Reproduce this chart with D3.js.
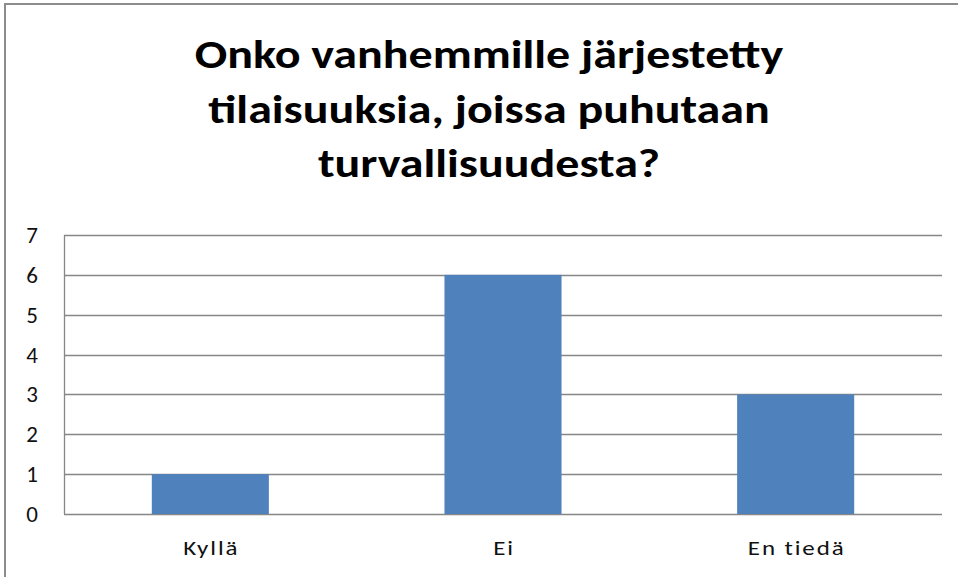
<!DOCTYPE html>
<html>
<head>
<meta charset="utf-8">
<script src="https://cdn.jsdelivr.net/npm/d3@7"></script>
<style>
  body { margin: 0; background: #fff; }
  svg { display: block; }
</style>
</head>
<body>
<svg id="chart" width="958" height="577"></svg>
<script>
const titleLines = ['Onko vanhemmille järjestetty', 'tilaisuuksia, joissa puhutaan', 'turvallisuudesta?'];
const categories = ['Kyllä', 'Ei', 'En tiedä'];
const values = [1, 6, 3];
const yTicks = [0, 1, 2, 3, 4, 5, 6, 7];

const svg = d3.select('#chart');
const W = 958, H = 577;
const margin = { top: 235, right: 16, bottom: 63, left: 64 };

// outer chart border
svg.append('rect')
  .attr('x', 5).attr('y', 4)
  .attr('width', W + 10).attr('height', H + 10)
  .attr('fill', 'none')
  .attr('stroke', '#8c8c8c')
  .attr('stroke-width', 2);

const x = d3.scaleBand()
  .domain(categories)
  .range([margin.left, W - margin.right])
  .padding(0);

const y = d3.scaleLinear()
  .domain([0, 7])
  .range([H - margin.bottom, margin.top]);

const font = 'Calibri, Carlito, "Open Sans", sans-serif';

// gridlines
svg.append('g')
  .selectAll('line')
  .data(yTicks)
  .join('line')
  .attr('x1', margin.left)
  .attr('x2', W - margin.right)
  .attr('y1', d => Math.round(y(d)) + 0.5)
  .attr('y2', d => Math.round(y(d)) + 0.5)
  .attr('stroke', '#868686')
  .attr('stroke-width', 1.3);

// y axis line
svg.append('line')
  .attr('x1', margin.left + 0.5).attr('x2', margin.left + 0.5)
  .attr('y1', y(7)).attr('y2', y(0))
  .attr('stroke', '#868686')
  .attr('stroke-width', 1.3);

// y tick labels
svg.append('g')
  .selectAll('text')
  .data(yTicks)
  .join('text')
  .attr('x', 38)
  .attr('y', d => y(d))
  .attr('dy', '0.35em')
  .attr('text-anchor', 'end')
  .attr('font-family', font)
  .attr('font-size', 23)
  .attr('fill', '#111')
  .text(d => d);

// bars
const barW = x.bandwidth() * 0.4;
svg.append('g')
  .selectAll('rect')
  .data(values)
  .join('rect')
  .attr('x', (d, i) => x(categories[i]) + (x.bandwidth() - barW) / 2)
  .attr('y', d => y(d))
  .attr('width', barW)
  .attr('height', d => y(0) - y(d))
  .attr('fill', '#4f81bd');

// x category labels (a bit wider than normal, like the reference)
svg.append('g')
  .selectAll('text')
  .data(categories)
  .join('text')
  .attr('transform', d => 'translate(' + (x(d) + x.bandwidth() / 2 + 1) + ',555) scale(1.25,1)')
  .attr('text-anchor', 'middle')
  .attr('font-family', font)
  .attr('font-size', 20)
  .attr('letter-spacing', 1.5)
  .attr('fill', '#111')
  .text(d => d);

// title
svg.append('g')
  .selectAll('text')
  .data(titleLines)
  .join('text')
  .attr('transform', (d, i) => 'translate(489,' + (68 + i * 54.5) + ') scale(1.2,1)')
  .attr('text-anchor', 'middle')
  .attr('font-family', font)
  .attr('font-weight', 'bold')
  .attr('font-size', 40)
  .attr('fill', '#000')
  .text(d => d);
</script>
</body>
</html>
